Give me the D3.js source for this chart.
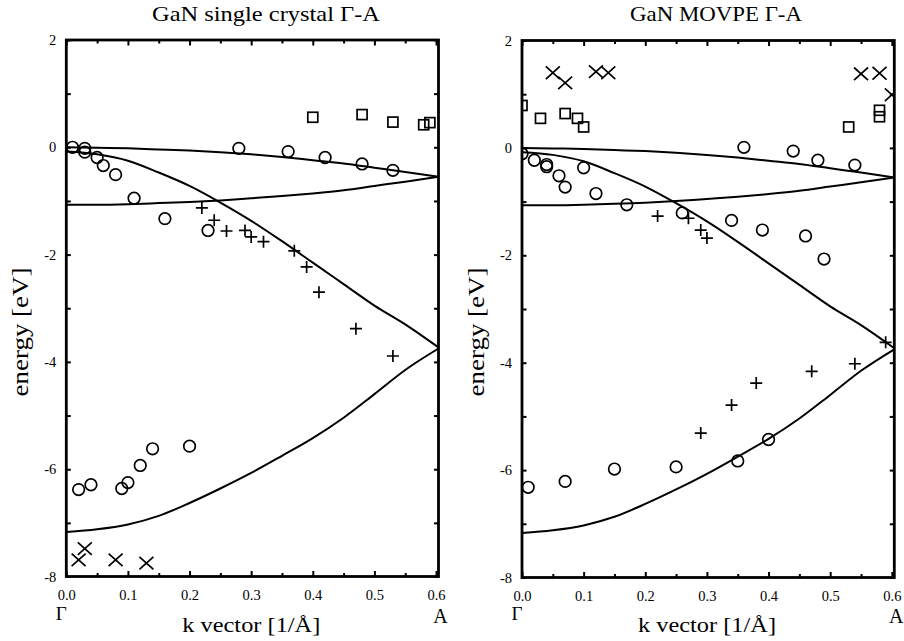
<!DOCTYPE html>
<html>
<head>
<meta charset="utf-8">
<script src="https://cdn.jsdelivr.net/npm/d3@7"></script>
<style>
  html, body { margin: 0; padding: 0; background: #fff; }
  svg { display: block; font-family: "Liberation Serif", "Times New Roman", serif; }
</style>
</head>
<body>
<svg id="chart" width="904" height="641"></svg>
<script>
// ---- Calculated bands along Γ-A (same in both panels) ----
const kA = 0.604;
const kGrid    = [0, 0.05, 0.1, 0.15, 0.2, 0.25, 0.3, 0.35, 0.4, 0.45, 0.5, 0.55, 0.604];
const bandTop  = [0, -0.01, -0.02, -0.04, -0.06, -0.09, -0.13, -0.18, -0.24, -0.30, -0.38, -0.46, -0.55];
const bandFall = [-0.08, -0.13, -0.25, -0.47, -0.72, -1.03, -1.37, -1.75, -2.15, -2.55, -2.95, -3.30, -3.73];
const bandRise = [-1.07, -1.07, -1.06, -1.04, -1.02, -0.99, -0.95, -0.91, -0.86, -0.80, -0.72, -0.64, -0.55];
const bandLow  = [-7.17, -7.12, -7.03, -6.87, -6.63, -6.36, -6.07, -5.75, -5.42, -5.04, -4.60, -4.15, -3.75];

// ---- Measured peaks, GaN single crystal [k, E] ----
const scCircles = [[0.01, 0.0], [0.03, -0.02], [0.03, -0.09], [0.05, -0.19], [0.06, -0.34], [0.08, -0.51],
  [0.11, -0.95], [0.16, -1.33], [0.23, -1.55], [0.28, -0.02], [0.36, -0.08], [0.42, -0.19], [0.48, -0.31],
  [0.53, -0.43], [0.02, -6.38], [0.04, -6.29], [0.09, -6.36], [0.10, -6.25], [0.12, -5.93], [0.14, -5.62],
  [0.20, -5.57]];
const scSquares = [[0.40, 0.56], [0.48, 0.61], [0.53, 0.47], [0.58, 0.42], [0.59, 0.46]];
const scPluses = [[0.22, -1.13], [0.24, -1.36], [0.26, -1.56], [0.29, -1.55], [0.30, -1.67], [0.32, -1.76],
  [0.37, -1.93], [0.39, -2.23], [0.41, -2.70], [0.47, -3.38], [0.53, -3.89]];
const scCrosses = [[0.02, -7.69], [0.03, -7.48], [0.08, -7.69], [0.13, -7.75]];

// ---- Measured peaks, GaN MOVPE [k, E] ----
const mvCircles = [[0.0, -0.11], [0.02, -0.23], [0.04, -0.31], [0.04, -0.35], [0.06, -0.52], [0.07, -0.73],
  [0.10, -0.37], [0.12, -0.85], [0.17, -1.06], [0.26, -1.21], [0.34, -1.35], [0.39, -1.53], [0.46, -1.64],
  [0.49, -2.07], [0.36, 0.01], [0.44, -0.06], [0.48, -0.23], [0.54, -0.32], [0.01, -6.32], [0.07, -6.21],
  [0.15, -5.98], [0.25, -5.94], [0.35, -5.83], [0.40, -5.43]];
const mvSquares = [[0.0, 0.79], [0.03, 0.55], [0.07, 0.64], [0.09, 0.55], [0.10, 0.39], [0.53, 0.39],
  [0.58, 0.70], [0.58, 0.58]];
const mvPluses = [[0.22, -1.27], [0.27, -1.31], [0.29, -1.53], [0.30, -1.68], [0.29, -5.31], [0.34, -4.79],
  [0.38, -4.38], [0.47, -4.16], [0.54, -4.02], [0.59, -3.62]];
const mvCrosses = [[0.05, 1.40], [0.07, 1.21], [0.12, 1.42], [0.14, 1.40], [0.55, 1.38], [0.58, 1.39],
  [0.60, 0.99]];

// ---- Axis ticks and labels ----
const kMajor = [0, 0.1, 0.2, 0.3, 0.4, 0.5, 0.6];
const kMinor = [0.05, 0.15, 0.25, 0.35, 0.45, 0.55];
const eTicks = [-8, -7, -6, -5, -4, -3, -2, -1, 0, 1, 2];
const eDomain = [-8, 2];
const panelTitles = ["GaN single crystal Γ-A", "GaN MOVPE Γ-A"];
const xTitle = "k vector [1/Å]";
const yTitle = "energy [eV]";
const pointStart = "Γ";
const pointEnd = "A";

const FONT = "Liberation Serif";
const svg = d3.select("#chart");
const defs = svg.append("defs");

function drawPanel(id, frame, title, sets) {
  const x = d3.scaleLinear().domain([0, kA]).range([frame.left, frame.right]);
  const y = d3.scaleLinear().domain(eDomain).range([frame.bottom, frame.top]);
  const g = svg.append("g");

  defs.append("clipPath").attr("id", "clip-" + id)
    .append("rect")
    .attr("x", frame.left).attr("y", frame.top)
    .attr("width", frame.right - frame.left).attr("height", frame.bottom - frame.top);

  const plot = g.append("g").attr("clip-path", `url(#clip-${id})`);

  // calculated bands
  const line = d3.line().x(d => x(d[0])).y(d => y(d[1])).curve(d3.curveMonotoneX);
  [bandTop, bandFall, bandRise, bandLow].forEach(b => {
    plot.append("path")
      .datum(kGrid.map((k, i) => [k, b[i]]))
      .attr("d", line)
      .attr("fill", "none").attr("stroke", "#000").attr("stroke-width", 2);
  });

  const sw = 1.7;

  plot.selectAll(null).data(sets.circles).join("circle")
    .attr("cx", d => x(d[0])).attr("cy", d => y(d[1])).attr("r", 5.8)
    .attr("fill", "none").attr("stroke", "#000").attr("stroke-width", sw);

  plot.selectAll(null).data(sets.squares).join("rect")
    .attr("x", d => x(d[0]) - 5).attr("y", d => y(d[1]) - 5)
    .attr("width", 10).attr("height", 10)
    .attr("fill", "none").attr("stroke", "#000").attr("stroke-width", sw);

  plot.selectAll(null).data(sets.pluses).join("path")
    .attr("d", d => {
      const cx = x(d[0]), cy = y(d[1]), h = 6;
      return `M${cx - h},${cy}H${cx + h}M${cx},${cy - h}V${cy + h}`;
    })
    .attr("fill", "none").attr("stroke", "#000").attr("stroke-width", sw);

  plot.selectAll(null).data(sets.crosses).join("path")
    .attr("d", d => {
      const cx = x(d[0]), cy = y(d[1]), hx = 7, hy = 6.3;
      return `M${cx - hx},${cy - hy}L${cx + hx},${cy + hy}M${cx - hx},${cy + hy}L${cx + hx},${cy - hy}`;
    })
    .attr("fill", "none").attr("stroke", "#000").attr("stroke-width", sw);

  // axes with inward ticks
  const styleAxis = sel => {
    sel.select(".domain").remove();
    sel.attr("font-family", FONT).attr("font-size", 14.5);
    sel.selectAll(".tick line").attr("stroke", "#000").attr("stroke-width", 2);
    sel.selectAll("text").attr("fill", "#000");
  };

  g.append("g").attr("transform", `translate(0,${frame.bottom})`)
    .call(d3.axisBottom(x).tickValues(kMajor).tickFormat(d3.format(".1f"))
      .tickSizeInner(-5.5).tickSizeOuter(0).tickPadding(13))
    .call(styleAxis);
  g.append("g").attr("transform", `translate(0,${frame.bottom})`)
    .call(d3.axisBottom(x).tickValues(kMinor).tickFormat("").tickSizeInner(-3.5).tickSizeOuter(0))
    .call(styleAxis);
  g.append("g").attr("transform", `translate(0,${frame.top})`)
    .call(d3.axisTop(x).tickValues(kMajor).tickFormat("").tickSizeInner(-5.5).tickSizeOuter(0))
    .call(styleAxis);
  g.append("g").attr("transform", `translate(0,${frame.top})`)
    .call(d3.axisTop(x).tickValues(kMinor).tickFormat("").tickSizeInner(-3.5).tickSizeOuter(0))
    .call(styleAxis);
  g.append("g").attr("transform", `translate(${frame.left},0)`)
    .call(d3.axisLeft(y).tickValues(eTicks).tickFormat(d => (d % 2 === 0 ? String(d) : ""))
      .tickSizeInner(-4.5).tickSizeOuter(0).tickPadding(10))
    .call(styleAxis);
  g.append("g").attr("transform", `translate(${frame.right},0)`)
    .call(d3.axisRight(y).tickValues(eTicks).tickFormat("").tickSizeInner(-4.5).tickSizeOuter(0))
    .call(styleAxis);

  // frame
  g.append("rect")
    .attr("x", frame.left).attr("y", frame.top)
    .attr("width", frame.right - frame.left).attr("height", frame.bottom - frame.top)
    .attr("fill", "none").attr("stroke", "#000").attr("stroke-width", 2.8);

  // titles and labels
  g.append("text").text(title)
    .attr("x", frame.titleX).attr("y", 20.5).attr("text-anchor", "middle")
    .attr("font-family", FONT).attr("font-size", 21)
    .attr("textLength", frame.titleW).attr("lengthAdjust", "spacingAndGlyphs");

  g.append("text").text(xTitle)
    .attr("x", frame.left + 185).attr("y", 632).attr("text-anchor", "middle")
    .attr("font-family", FONT).attr("font-size", 22)
    .attr("textLength", 138).attr("lengthAdjust", "spacingAndGlyphs");

  g.append("text").text(yTitle)
    .attr("transform", `translate(${frame.left - 38},332) rotate(-90)`)
    .attr("text-anchor", "middle")
    .attr("font-family", FONT).attr("font-size", 23)
    .attr("textLength", 129).attr("lengthAdjust", "spacingAndGlyphs");

  g.append("text").text(pointStart)
    .attr("x", x(0) - 5).attr("y", 620).attr("text-anchor", "middle")
    .attr("font-family", FONT).attr("font-size", 19);
  g.append("text").text(pointEnd)
    .attr("x", x(kA) + 2).attr("y", 622.5).attr("text-anchor", "middle")
    .attr("font-family", FONT).attr("font-size", 20);
}

drawPanel("sc",
  { left: 66.3, right: 438.5, top: 40, bottom: 576.5, titleX: 266, titleW: 228 },
  panelTitles[0],
  { circles: scCircles, squares: scSquares, pluses: scPluses, crosses: scCrosses });

drawPanel("mv",
  { left: 522, right: 894.3, top: 40.5, bottom: 577.5, titleX: 716, titleW: 172 },
  panelTitles[1],
  { circles: mvCircles, squares: mvSquares, pluses: mvPluses, crosses: mvCrosses });
</script>
</body>
</html>
